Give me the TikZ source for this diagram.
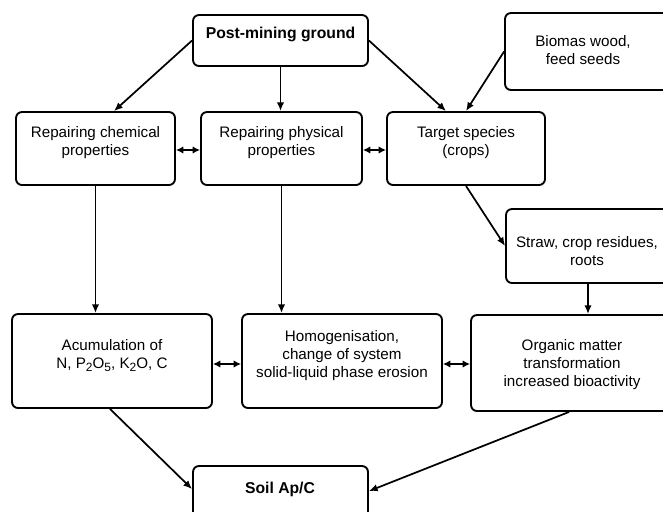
\documentclass[tikz,border=0pt]{standalone}
\usepackage{fontspec}
\setmainfont{Liberation Sans}
\usetikzlibrary{arrows.meta,calc,fit}
\newcommand{\mysub}[1]{\raisebox{-0.3ex}{\fontsize{9}{9}\selectfont #1}}
\begin{document}
\begin{tikzpicture}[x=0.75pt,y=-0.75pt,
 box/.style={draw, line width=1.4pt, rounded corners=4.5pt, inner sep=0pt, align=center, font=\fontsize{11.4}{13.5}\selectfont},
 bbox/.style={box, font=\fontsize{11.8}{13.5}\selectfont\bfseries},
 lbl/.style={align=center, font=\fontsize{11.4}{13.5}\selectfont, inner sep=0pt},
 blbl/.style={lbl, font=\fontsize{11.8}{13.5}\selectfont\bfseries},
 arr/.style={line width=1.3pt, -{Latex[length=6.5pt,width=5.5pt]}},
 darr/.style={line width=1.3pt, {Latex[length=5.5pt,width=5.5pt]}-{Latex[length=5.5pt,width=5.5pt]}}]
\useasboundingbox (0,0) rectangle (663,511);
\clip (0,0) rectangle (663,511);

\node[bbox, fit={(193,15) (368,66)}] (pm) {Post-mining ground};
\node[box, fit={(505,13) (690,90)}] (bio) {};
\node[lbl] (biot) at (583,50) {Biomas wood,\\feed seeds};
\node[box, fit={(16,112) (175,185)}] (chem) {Repairing chemical\\properties};
\node[box, fit={(201,112) (362,185)}] (phys) {Repairing physical\\properties};
\node[box, fit={(387,112) (545,185)}] (targ) {Target species\\(crops)};
\node[box, fit={(506,209) (670,283)}] (straw) {};
\node[lbl] (strawt) at (587,251.5) {Straw, crop residues,\\roots};
\node[box, fit={(12,314) (212,408)}] (acum) {Acumulation of\\N, P\mysub{2}O\mysub{5}, K\mysub{2}O, C};
\node[box, fit={(242,314) (442,408)}] (homog) {Homogenisation,\\change of system\\solid-liquid phase erosion};
\node[box, fit={(471,315) (690,411)}] (org) {};
\node[lbl] (orgt) at (572,364.5) {Organic matter\\transformation\\increased bioactivity};
\node[box, fit={(193,466) (368,540)}] (soil) {};
\node[blbl] (soilt) at (280,489) {Soil Ap/C};

\draw[arr] (pm.west) -- ($(chem.north)+(18.5,0)$);
\draw[arr] (pm.south) -- (pm.south |- phys.north);
\draw[arr] (pm.east) -- ($(targ.north)+(-20,0)$);
\draw[arr] (bio.west) -- (targ.north);
\draw[darr] ($(chem.east)+(0,1.5)$) -- ($(phys.west)+(0,1.5)$);
\draw[darr] ($(phys.east)+(0,1.5)$) -- ($(targ.west)+(0,1.5)$);
\draw[arr] (chem.south) -- (chem.south |- acum.north);
\draw[arr] (phys.south) -- (phys.south |- homog.north);
\draw[arr] (targ.south) -- (straw.west);
\draw[arr] (straw.south) -- (straw.south |- org.north);
\draw[darr] ($(acum.east)+(0,3)$) -- ($(homog.west)+(0,3)$);
\draw[darr] ($(homog.east)+(0,3)$) -- ($(org.west |- homog.east)+(0,3)$);
\draw[arr] ($(acum.south)+(-2,0)$) -- ($(soil.north west)+(0,24)$);
\draw[arr] ($(org.south west)+(99,0)$) -- ($(soil.north east)+(0,26)$);
\end{tikzpicture}
\end{document}
